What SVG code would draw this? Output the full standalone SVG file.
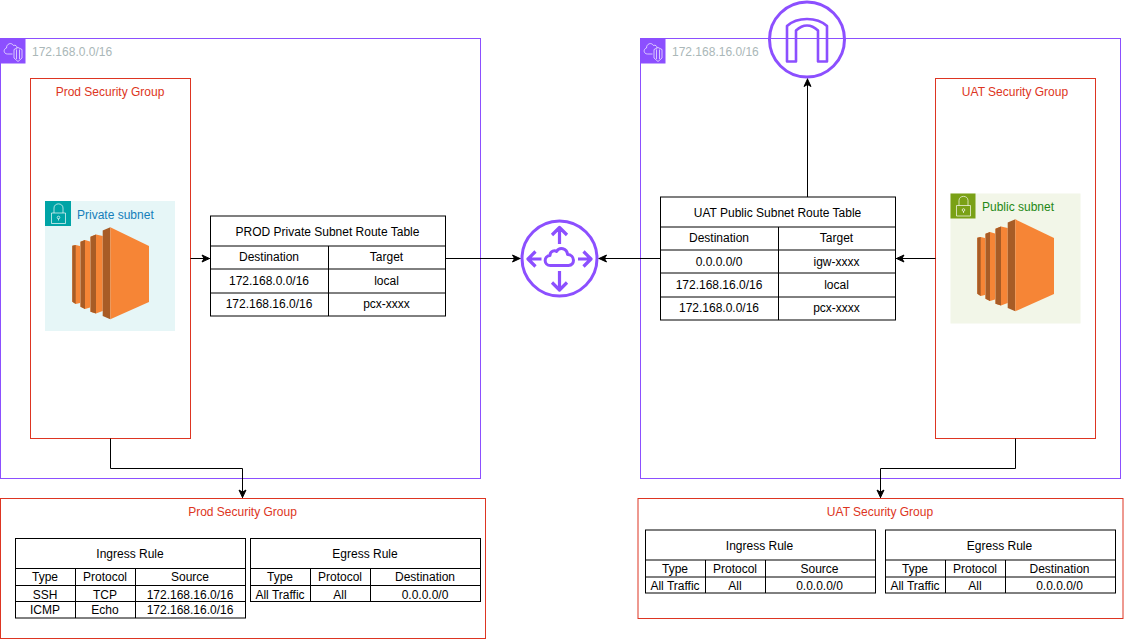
<svg xmlns="http://www.w3.org/2000/svg" width="1124" height="639" viewBox="0 0 1124 639">
<style>
text{font-family:"Liberation Sans",Arial,sans-serif;font-size:12px;fill:#000;text-anchor:middle}
.vpc{fill:none;stroke:#8c4fff}
.sg{fill:none;stroke:#dd3522}
.sgt{fill:#dd3522}
.vl{fill:#aab7b8;text-anchor:start}
.tb{fill:#fff;stroke:#000}
.ln{fill:none;stroke:#000}
.wl{fill:none;stroke:#fff;stroke-width:.8;stroke-opacity:.85}
.pu{fill:none;stroke:#8c4fff;stroke-width:3;stroke-linejoin:round}
.cn{fill:none;stroke:#000;marker-end:url(#ah)}
.dk{fill:#a85c26}
.or{fill:#f68536}
</style>
<defs>
<marker id="ah" markerUnits="userSpaceOnUse" markerWidth="12" markerHeight="12" refX="9" refY="5" orient="auto">
<path d="M1 1.500L8.500 5L1 8.500L3 5Z" fill="#000" stroke="#000"/>
</marker>
<g id="ec2">
<path class="or" d="M72.300 245.700L75.700 245L80 246V303L75.700 304L72.300 301.700Z"/>
<path class="dk" d="M72.300 245.700L75.700 245V304L72.300 301.700Z"/>
<path class="or" d="M80.500 241.700L85 240L90 241.500V307.500L85 309L80.500 306.700Z"/>
<path class="dk" d="M80.500 241.700L85 240V309L80.500 306.700Z"/>
<path class="or" d="M90.500 236.700L96 234.500L102.700 236V311L96 313.500L90.500 311.700Z"/>
<path class="dk" d="M90.500 236.700L96 234.500V313.500L90.500 311.700Z"/>
<path class="dk" d="M102.700 230.500L110.300 227.300V319.300L102.700 316Z"/>
<path class="or" d="M110.300 227.300L149 246V302L110.300 319.300Z"/>
</g>
<g id="vicon">
<rect x="0" y="0" width="25" height="25" fill="#8c4fff"/>
<path class="wl" d="M12 15.500H7C3 15.500 2.500 10.500 6 9.500C6 5 11 3.500 13 7C15 6 16.500 7.500 16.500 9.500"/>
<path class="wl" d="M13.500 11L17.500 9L21.500 11V19.500L17.500 23L13.500 19.500Z M16 11V20.500 M19 11V20.500"/>
</g>
<g id="licon">
<path class="wl" d="M6.500 12H20.500V22.500H6.500Z M9 12V7C9 1.500 18 1.500 18 7V12 M13.500 19.500V17.500"/>
<circle cx="13.500" cy="16.500" r="1.300" class="wl"/>
</g>
</defs>

<g id="vpc-prod">
<rect class="vpc" x="0.500" y="38.500" width="480" height="440"/>
<use href="#vicon" x="0.500" y="38.500"/>
<text class="vl" x="32" y="56">172.168.0.0/16</text>
</g>
<g id="vpc-uat">
<rect class="vpc" x="640.500" y="38.500" width="480" height="440"/>
<use href="#vicon" x="640.500" y="38.500"/>
<text class="vl" x="672" y="56">172.168.16.0/16</text>
</g>

<g id="sg-prod">
<rect class="sg" x="30.500" y="78.500" width="160" height="360"/>
<text class="sgt" x="110" y="96">Prod Security Group</text>
</g>
<g id="sg-uat">
<rect class="sg" x="935.500" y="78.500" width="160" height="360"/>
<text class="sgt" x="1015" y="96">UAT Security Group</text>
</g>

<g id="subnet-private">
<rect x="45" y="201" width="130" height="130" fill="#e6f6f7"/>
<rect x="45" y="201" width="26" height="25" fill="#00a4a6"/>
<use href="#licon" x="45" y="201"/>
<text x="77" y="219" style="text-anchor:start;fill:#147eba">Private subnet</text>
<use href="#ec2"/>
</g>
<g id="subnet-public">
<rect x="950.500" y="193.500" width="130" height="130" fill="#f2f6e8"/>
<rect x="950.500" y="193.500" width="25" height="25" fill="#7aa116"/>
<use href="#licon" x="950" y="193.500"/>
<text x="982" y="211" style="text-anchor:start;fill:#248814">Public subnet</text>
<use href="#ec2" x="905" y="-8"/>
</g>

<g id="rt-prod">
<rect class="tb" x="210.500" y="216" width="235" height="100"/>
<path class="ln" d="M210.500 246H445.500M210.500 269H445.500M210.500 293H445.500M328.500 246V316"/>
<text x="327.500" y="235.500">PROD Private Subnet Route Table</text>
<text x="269" y="261">Destination</text><text x="386.500" y="261">Target</text>
<text x="269" y="285">172.168.0.0/16</text><text x="386.500" y="285">local</text>
<text x="269" y="308">172.168.16.0/16</text><text x="386.500" y="308">pcx-xxxx</text>
</g>
<g id="rt-uat">
<rect class="tb" x="660.500" y="197" width="235" height="123"/>
<path class="ln" d="M660.500 227H895.500M660.500 250H895.500M660.500 273H895.500M660.500 297H895.500M778.500 227V320"/>
<text x="777.500" y="217">UAT Public Subnet Route Table</text>
<text x="719" y="242">Destination</text><text x="836.500" y="242">Target</text>
<text x="719" y="266">0.0.0.0/0</text><text x="836.500" y="266">igw-xxxx</text>
<text x="719" y="289">172.168.16.0/16</text><text x="836.500" y="289">local</text>
<text x="719" y="312">172.168.0.0/16</text><text x="836.500" y="312">pcx-xxxx</text>
</g>

<g id="router">
<circle class="pu" cx="559.500" cy="258.500" r="37.500"/>
<path fill="none" stroke="#8c4fff" stroke-width="3.200" stroke-linejoin="round" d="M559.500 244V227.500M552 235L559.500 227.500L567 235M559.500 271V290M552 282.500L559.500 290L567 282.500M541.500 259H528M535.500 251.500L528 259L535.500 266.500M578 259H591M583.500 251.500L591 259L583.500 266.500"/>
<path fill="none" stroke="#8c4fff" stroke-width="3" stroke-linejoin="round" d="M550.500 265.500C543.500 265.500 543.500 256 550 255.500C550 250.500 555 250 556.500 251.500C559.500 246.500 567 248 567.500 254.500C575 254.500 575.500 265.500 568.500 265.500Z"/>
</g>
<g id="igw">
<circle class="pu" cx="807" cy="39.500" r="37.500"/>
<path fill="none" stroke="#8c4fff" stroke-width="2.600" stroke-linejoin="round" d="M787 61.500V26C793 20.500 800 19 807 19C814 19 821 20.500 827 26V61.500H818V30.500C811 24 803 24 796 30.500V61.500Z"/>
</g>

<g id="connectors">
<path class="cn" d="M190.500 258.500H210"/>
<path class="cn" d="M445.500 258.500H520.500"/>
<path class="cn" d="M660.500 258.500H598.500"/>
<path class="cn" d="M935.500 258.500H896"/>
<path class="cn" d="M807.500 197V78.500"/>
<path class="cn" d="M110.500 438.500V468.500H242.500V498"/>
<path class="cn" d="M1015.500 438.500V468.500H880.500V498"/>
</g>

<g id="box-prod">
<rect class="sg" x="0.500" y="498.500" width="485" height="140"/>
<text class="sgt" x="242.500" y="516">Prod Security Group</text>
<g id="prod-ingress">
<rect class="tb" x="15.500" y="538.500" width="230" height="79.500"/>
<path class="ln" d="M15.500 568.500H245.500M15.500 585.500H245.500M15.500 601.500H245.500M75.500 568.500V618M135.500 568.500V618"/>
<text x="130" y="558">Ingress Rule</text>
<text x="45" y="581">Type</text><text x="105" y="581">Protocol</text><text x="190" y="581">Source</text>
<text x="45" y="599">SSH</text><text x="105" y="599">TCP</text><text x="190" y="599">172.168.16.0/16</text>
<text x="45" y="614">ICMP</text><text x="105" y="614">Echo</text><text x="190" y="614">172.168.16.0/16</text>
</g>
<g id="prod-egress">
<rect class="tb" x="250.500" y="538.500" width="230" height="63"/>
<path class="ln" d="M250.500 568.500H480.500M250.500 585.500H480.500M310.500 568.500V601.500M370.500 568.500V601.500"/>
<text x="365" y="558">Egress Rule</text>
<text x="280" y="581">Type</text><text x="340" y="581">Protocol</text><text x="425" y="581">Destination</text>
<text x="280" y="599">All Traffic</text><text x="340" y="599">All</text><text x="425" y="599">0.0.0.0/0</text>
</g>
</g>

<g id="box-uat">
<rect class="sg" x="638" y="498.500" width="485" height="120"/>
<text class="sgt" x="880" y="516">UAT Security Group</text>
<g id="uat-ingress">
<rect class="tb" x="645.500" y="530" width="230" height="63"/>
<path class="ln" d="M645.500 560H875.500M645.500 577H875.500M705.500 560V593M765.500 560V593"/>
<text x="759.500" y="550">Ingress Rule</text>
<text x="675" y="573">Type</text><text x="735" y="573">Protocol</text><text x="819.500" y="573">Source</text>
<text x="675" y="590">All Traffic</text><text x="735" y="590">All</text><text x="819.500" y="590">0.0.0.0/0</text>
</g>
<g id="uat-egress">
<rect class="tb" x="885.500" y="530" width="230" height="63"/>
<path class="ln" d="M885.500 560H1115.500M885.500 577H1115.500M945.500 560V593M1005.500 560V593"/>
<text x="999.500" y="550">Egress Rule</text>
<text x="915" y="573">Type</text><text x="975" y="573">Protocol</text><text x="1059.500" y="573">Destination</text>
<text x="915" y="590">All Traffic</text><text x="975" y="590">All</text><text x="1059.500" y="590">0.0.0.0/0</text>
</g>
</g>
</svg>
